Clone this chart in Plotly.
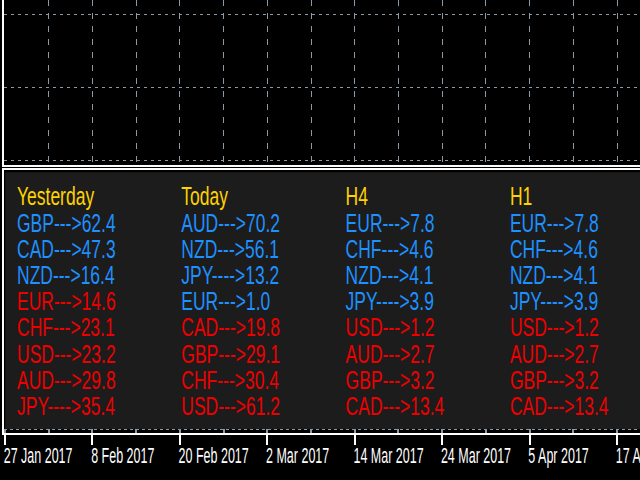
import plotly.graph_objects as go

# bar index -> date label (daily chart, one label every 8 bars)
tick_bars = [0, 8, 16, 24, 32, 40, 48, 56]
tick_labels = ['27 Jan 2017', '8 Feb 2017', '20 Feb 2017', '2 Mar 2017',
               '14 Mar 2017', '24 Mar 2017', '5 Apr 2017', '17 Apr 2017']

# currency strength per period; sign gives the colour (+ blue, - red)
headers = ['Yesterday', 'Today', 'H4', 'H1']
yesterday_cur = ['GBP', 'CAD', 'NZD', 'EUR', 'CHF', 'USD', 'AUD', 'JPY']
yesterday_val = [62.4, 47.3, 16.4, -14.6, -23.1, -23.2, -29.8, -35.4]
today_cur = ['AUD', 'NZD', 'JPY', 'EUR', 'CAD', 'GBP', 'CHF', 'USD']
today_val = [70.2, 56.1, 13.2, 1.0, -19.8, -29.1, -30.4, -61.2]
h4_cur = ['EUR', 'CHF', 'NZD', 'JPY', 'USD', 'AUD', 'GBP', 'CAD']
h4_val = [7.8, 4.6, 4.1, 3.9, -1.2, -2.7, -3.2, -13.4]
h1_cur = ['EUR', 'CHF', 'NZD', 'JPY', 'USD', 'AUD', 'GBP', 'CAD']
h1_val = [7.8, 4.6, 4.1, 3.9, -1.2, -2.7, -3.2, -13.4]

BLUE, RED, GOLD = '#1E90FF', '#EE0000', '#FFD200'
GRID = '#8c9aa8'
FONT = 'Liberation Sans, Arial, sans-serif'

columns = [(yesterday_cur, yesterday_val), (today_cur, today_val),
           (h4_cur, h4_val), (h1_cur, h1_val)]

tx, ty, tt, tc = [], [], [], []
for c, (name, (curs, vals)) in enumerate(zip(headers, columns)):
	tx.append(c); ty.append(0); tt.append(name); tc.append(GOLD)
	for r, (cur, v) in enumerate(zip(curs, vals)):
		arrow = '---->' if cur == 'JPY' else '--->'
		tx.append(c); ty.append(r + 1)
		tt.append(f'{cur}{arrow}{abs(v):.1f}')
		tc.append(BLUE if v > 0 else RED)

fig = go.Figure()
# empty panes, just to get the axes drawn
fig.add_trace(go.Scatter(x=[tick_bars[0]], y=[None], xaxis='x', yaxis='y', showlegend=False))
fig.add_trace(go.Scatter(x=[tick_bars[0]], y=[None], xaxis='x2', yaxis='y2', showlegend=False))
fig.add_trace(go.Scatter(x=tx, y=ty, xaxis='x3', yaxis='y3', mode='text', text=tt,
	textposition='middle right', textfont=dict(family=FONT, size=17.5, color=tc),
	showlegend=False, hoverinfo='skip'))

xrange = [-0.09, 58.1]
fig.update_layout(
	width=640, height=480, margin=dict(l=0, r=0, t=0, b=0),
	paper_bgcolor='black', plot_bgcolor='rgba(0,0,0,0)',
	xaxis=dict(domain=[0.00625, 1], range=xrange, anchor='y', showticklabels=False,
		showgrid=True, gridcolor=GRID, griddash='6px,7px', gridwidth=1,
		tick0=0, dtick=4, ticks='', showline=True, linecolor='white', linewidth=2,
		zeroline=False, automargin=False),
	yaxis=dict(domain=[0.65625, 1], range=[0.9315, 3.1918], anchor='x',
		tickvals=[1, 2, 3], showticklabels=False, showgrid=True, gridcolor=GRID,
		griddash='3px,4px', showline=True, linecolor='white', linewidth=1.5,
		zeroline=False, automargin=False),
	xaxis2=dict(domain=[0.00625, 1], range=xrange, anchor='y2', matches='x',
		tickvals=tick_bars, ticktext=tick_labels, ticks='outside', ticklen=10,
		tickcolor='white', tickwidth=1.5, tickangle=0, ticklabelposition='outside right',
		ticklabelstandoff=10, ticklabelshift=-3, ticklabeloverflow='allow',
		tickfont=dict(family=FONT, size=12.5, color='white'),
		minor=dict(tick0=0, dtick=4, ticks='inside', ticklen=4, tickcolor=GRID),
		showgrid=False, showline=True, mirror=True, linecolor='white', linewidth=2,
		zeroline=False, automargin=False),
	yaxis2=dict(domain=[0.098958, 0.646875], range=[0, 1], anchor='x2',
		tickvals=[0.012], showticklabels=False, showgrid=True, gridcolor=GRID,
		griddash='3px,3px', showline=True, linecolor='white', linewidth=1.5,
		zeroline=False, automargin=False),
	xaxis3=dict(domain=[0, 1], range=[-0.1035, 3.7918], anchor='y3', visible=False,
		automargin=False),
	yaxis3=dict(domain=[0, 1], range=[10.77, -7.55], anchor='x3', visible=False,
		automargin=False),
	shapes=[dict(type='rect', xref='x2 domain', yref='y2 domain', x0=0.002, x1=1,
		y0=0.012, y1=0.99, fillcolor='#1c1c1c', line_width=0, layer='below')],
)

# the terminal screenshot has tall, narrow lettering: stretch the text vertically
stretch_js = '''
document.body.style.margin = '0';
var gd = document.getElementById('{plot_id}');
function stretch(sel, k) {
	gd.querySelectorAll(sel).forEach(function (t) {
		var fs = parseFloat(t.style.fontSize);
		var c = parseFloat(t.getAttribute('y') || 0) - 0.36 * fs;
		var old = t.getAttribute('transform') || '';
		t.setAttribute('transform', old + ' translate(0,' + c + ') scale(1,' + k + ') translate(0,' + (-c) + ')');
	});
}
stretch('.textpoint text', 1.5);
stretch('.x2tick text', 1.8);
'''

fig.write_html('out.html', post_script=stretch_js, config={'displayModeBar': False})
